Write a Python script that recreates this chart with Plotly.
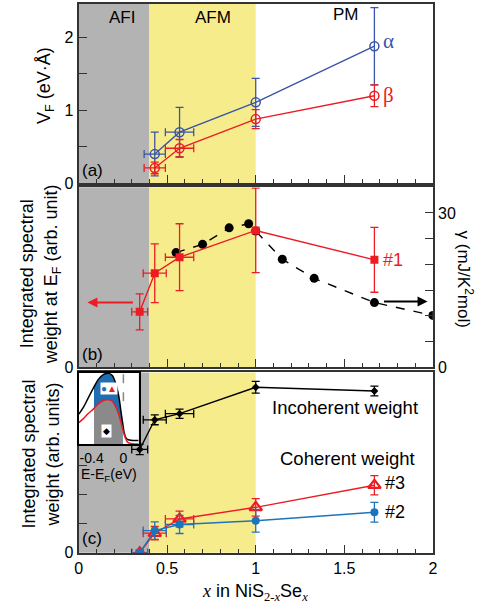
import plotly.graph_objects as go

W, H = 483, 607
def px(x):
    return x / W
def py(y):
    return 1 - y / H

# ---------------- data ----------------
# phase boundaries
afi_afm = 0.4
afm_pm = 1.0

# Panel (a): Fermi velocity
xa = [0.43, 0.57, 1.0, 1.67]
xa_err = [0.06, 0.08]
alpha_v = [0.40, 0.70, 1.11, 1.88]
alpha_err = [0.30, 0.34, 0.33, 0.53]
beta_v = [0.21, 0.48, 0.88, 1.20]
beta_err = [0.08, 0.12, 0.13, 0.15]

# Panel (b): integrated spectral weight at EF (#1) and gamma
xb = [0.345, 0.43, 0.57, 1.0, 1.67]
xb_err = [0.045, 0.065, 0.08]
sw_ef = [10.8, 18.3, 21.4, 26.6, 20.9]
sw_ef_err = [3.5, 5.7, 6.5, 8.2, 6.3]
x_gamma = [0.55, 0.70, 0.85, 0.96, 1.0, 1.15, 1.33, 1.67, 2.0]
gamma = [22.3, 23.9, 27.1, 27.9, 26.5, 21.0, 17.3, 12.6, 10.1]

# Panel (c): incoherent / coherent weights
xc = [0.345, 0.43, 0.57, 1.0, 1.67]
xc_err = [0.045, 0.065, 0.08]
incoh = [3.55, 4.57, 4.78, 5.69, 5.56]
incoh_err = [0.18, 0.17, 0.16, 0.20, 0.17]
coh3 = [0.0, 0.67, 1.16, 1.56, 2.32]
coh3_err = [0.10, 0.23, 0.27, 0.30, 0.33]
coh2 = [0.0, 0.76, 0.97, 1.10, 1.39]
coh2_err = [0.10, 0.30, 0.31, 0.39, 0.34]

# Inset spectrum
inset_E = [-0.56, -0.50, -0.45, -0.37, -0.32, -0.27, -0.22, -0.18, -0.14,
           -0.10, -0.06, -0.03, -0.01, 0.01, 0.03, 0.06, 0.19]
inset_black = [0.42, 0.52, 0.63, 0.80, 0.90, 0.96, 0.99, 0.99, 0.96,
               0.86, 0.68, 0.45, 0.30, 0.16, 0.09, 0.06, 0.05]
inset_red = [0.30, 0.36, 0.42, 0.50, 0.56, 0.60, 0.62, 0.62, 0.60,
             0.53, 0.42, 0.30, 0.21, 0.13, 0.07, 0.02, 0.0]
fill_lo, fill_hi = 3, 13  # slice of inset points that are filled

# ---------------- style ----------------
FONT = "Liberation Sans, Arial, sans-serif"
SERIF = "Liberation Serif, Times New Roman, serif"
BLUE_A = "#3a55a8"
RED = "#ec1c24"
BLUE_C = "#1b75bc"
GRAY = "#b3b3b3"
YELLOW = "#f7ec8c"
AX = "#333333"

fig = go.Figure()

def xerr_trace(x, y, err, color, xaxis, yaxis):
    return go.Scatter(x=x[:len(err)], y=y[:len(err)], mode="markers",
                      marker=dict(color="rgba(0,0,0,0)", size=1),
                      error_x=dict(type="data", array=err, color=color, thickness=1.3, width=4),
                      xaxis=xaxis, yaxis=yaxis, showlegend=False, hoverinfo="skip")

# Panel (a)
fig.add_trace(xerr_trace(xa, alpha_v, xa_err, BLUE_A, "x3", "y3"))
fig.add_trace(xerr_trace(xa, beta_v, xa_err, RED, "x3", "y3"))
fig.add_trace(go.Scatter(x=xa, y=alpha_v, mode="lines+markers", xaxis="x3", yaxis="y3",
                         line=dict(color=BLUE_A, width=1.4),
                         marker=dict(symbol="circle-open", size=9, color=BLUE_A, line=dict(width=1.5)),
                         error_y=dict(type="data", array=alpha_err, color=BLUE_A, thickness=1.3, width=4),
                         showlegend=False))
fig.add_trace(go.Scatter(x=xa, y=beta_v, mode="lines+markers", xaxis="x3", yaxis="y3",
                         line=dict(color=RED, width=1.4),
                         marker=dict(symbol="circle-open", size=9, color=RED, line=dict(width=1.5)),
                         error_y=dict(type="data", array=beta_err, color=RED, thickness=1.3, width=4),
                         showlegend=False))

# Panel (b): gamma (dashed black) then #1 (red, on overlay so it sits on top)
fig.add_trace(go.Scatter(x=x_gamma, y=gamma, mode="lines+markers", xaxis="x2", yaxis="y2",
                         line=dict(color="black", width=1.4, dash="dash"),
                         marker=dict(symbol="circle", size=9, color="black"),
                         showlegend=False))
fig.add_trace(xerr_trace(xb, sw_ef, xb_err, RED, "x2", "y5"))
fig.add_trace(go.Scatter(x=xb, y=sw_ef, mode="lines+markers", xaxis="x2", yaxis="y5",
                         line=dict(color=RED, width=1.4),
                         marker=dict(symbol="square", size=8, color=RED),
                         error_y=dict(type="data", array=sw_ef_err, color=RED, thickness=1.3, width=4),
                         showlegend=False))

# Panel (c)
fig.add_trace(xerr_trace(xc, incoh, xc_err, "black", "x", "y"))
fig.add_trace(xerr_trace(xc, coh3, xc_err, RED, "x", "y"))
fig.add_trace(xerr_trace(xc, coh2, xc_err, BLUE_C, "x", "y"))
fig.add_trace(go.Scatter(x=xc, y=incoh, mode="lines+markers", xaxis="x", yaxis="y",
                         line=dict(color="black", width=1.4),
                         marker=dict(symbol="diamond", size=6, color="black"),
                         error_y=dict(type="data", array=incoh_err, color="black", thickness=1.3, width=4),
                         showlegend=False))
fig.add_trace(go.Scatter(x=xc, y=coh3, mode="lines+markers", xaxis="x", yaxis="y",
                         line=dict(color=RED, width=1.4),
                         marker=dict(symbol="triangle-up-open", size=11, color=RED, line=dict(width=2.2)),
                         error_y=dict(type="data", array=coh3_err, color=RED, thickness=1.3, width=4),
                         showlegend=False))
fig.add_trace(go.Scatter(x=xc, y=coh2, mode="lines+markers", xaxis="x", yaxis="y",
                         line=dict(color=BLUE_C, width=1.4),
                         marker=dict(symbol="circle", size=8, color=BLUE_C),
                         error_y=dict(type="data", array=coh2_err, color=BLUE_C, thickness=1.3, width=4),
                         showlegend=False))

# Inset
fig.add_trace(go.Scatter(x=inset_E[fill_lo:fill_hi], y=inset_black[fill_lo:fill_hi], mode="lines",
                         line=dict(width=0), fill="tozeroy", fillcolor="#1f6db3",
                         xaxis="x4", yaxis="y4", showlegend=False, hoverinfo="skip"))
fig.add_trace(go.Scatter(x=inset_E[fill_lo:fill_hi], y=inset_red[fill_lo:fill_hi], mode="lines",
                         line=dict(width=0), fill="tozeroy", fillcolor="#8a8a8a",
                         xaxis="x4", yaxis="y4", showlegend=False, hoverinfo="skip"))
fig.add_trace(go.Scatter(x=inset_E, y=inset_black, mode="lines", line=dict(color="black", width=1.5, shape="spline"),
                         xaxis="x4", yaxis="y4", showlegend=False))
fig.add_trace(go.Scatter(x=inset_E, y=inset_red, mode="lines", line=dict(color=RED, width=1.5, shape="spline"),
                         xaxis="x4", yaxis="y4", showlegend=False))

# ---------------- axes ----------------
frame = dict(showline=True, mirror=True, linecolor=AX, linewidth=2, showgrid=False, zeroline=False)
xdom = [px(76), px(437)]
minor = dict(dtick=0.1, ticks="inside", ticklen=4, tickwidth=1.3, tickcolor=AX)
xbase = dict(range=[0, 2], dtick=0.5, tick0=0, ticks="inside", ticklen=8, tickwidth=1.3,
             tickcolor=AX, minor=minor, domain=xdom, **frame)
tickfont = dict(family=FONT, size=16, color="black")

layout = dict(
    width=W, height=H, margin=dict(l=0, r=0, t=0, b=0),
    paper_bgcolor="white", plot_bgcolor="white",
    font=dict(family=FONT, size=16, color="black"),
    showlegend=False,
    xaxis=dict(**xbase, anchor="y", tickfont=tickfont),
    yaxis=dict(domain=[py(561), py(378)], range=[0, 6.2], anchor="x",
               tickvals=[0, 1, 2, 3, 4, 5, 6], ticktext=["0", "", "", "", "", "", ""],
               ticks="inside", ticklen=8, tickwidth=1.3, tickcolor=AX, tickfont=tickfont, **frame),
    xaxis2=dict(**xbase, anchor="y2", matches="x", showticklabels=False),
    yaxis2=dict(domain=[py(373), py(190)], range=[0, 35], anchor="x2",
                tickvals=[0], ticktext=["0"], ticks="", tickfont=tickfont, **frame),
    yaxis5=dict(overlaying="y2", side="right", range=[0, 35], anchor="x2",
                tickvals=[0, 5, 10, 15, 20, 25, 30], ticktext=["0", "", "", "", "", "", "30"],
                ticks="inside", ticklen=8, tickwidth=1.3, tickcolor=AX, tickfont=tickfont,
                showline=True, linecolor=AX, linewidth=2, showgrid=False, zeroline=False),
    xaxis3=dict(**xbase, anchor="y3", matches="x", showticklabels=False),
    yaxis3=dict(domain=[py(186), py(4)], range=[0, 2.46], anchor="x3",
                tickvals=[0, 0.5, 1, 1.5, 2], ticktext=["0", "", "1", "", "2"],
                ticks="inside", ticklen=8, tickwidth=1.3, tickcolor=AX, tickfont=tickfont, **frame),
    xaxis4=dict(domain=[px(76), px(137.3)], range=[-0.564, 0.193], anchor="y4",
                tickvals=[-0.4, 0], ticktext=["-0.4", "0"], ticks="",
                tickfont=dict(family=FONT, size=14, color="black"),
                showline=True, mirror=True, linecolor="black", linewidth=1.5, showgrid=False, zeroline=False),
    yaxis4=dict(domain=[py(450.7), py(378.3)], range=[0, 1.0], anchor="x4",
                showticklabels=False, ticks="",
                showline=True, mirror=True, linecolor="black", linewidth=1.5, showgrid=False, zeroline=False),
)
fig.update_layout(**layout)

# ---------------- phase bands ----------------
shapes = []
for xr, yr in [("x", "y"), ("x2", "y2"), ("x3", "y3")]:
    shapes.append(dict(type="rect", xref=xr, yref=yr + " domain", x0=0, x1=afi_afm, y0=0, y1=1,
                       fillcolor=GRAY, line=dict(width=0), layer="below"))
    shapes.append(dict(type="rect", xref=xr, yref=yr + " domain", x0=afi_afm, x1=afm_pm, y0=0, y1=1,
                       fillcolor=YELLOW, line=dict(width=0), layer="below"))
shapes.append(dict(type="line", xref="x4", yref="y4 domain", x0=0, x1=0, y0=0.6, y1=1,
                   line=dict(color="#888888", width=1.5, dash="dash"), layer="above"))
fig.update_layout(shapes=shapes)

# ---------------- annotations ----------------
ann = []
def txt(text, x, y, size=17, color="black", family=FONT, xanchor="center", angle=0, **kw):
    d = dict(text=text, x=x, y=y, xref=kw.pop("xref", "paper"), yref=kw.pop("yref", "paper"),
             showarrow=False, xanchor=xanchor, yanchor="middle", textangle=angle,
             font=dict(size=size, color=color, family=family))
    d.update(kw)
    ann.append(d)

# phase names
txt("AFI", px(120), py(18))
txt("AFM", px(213), py(18))
txt("PM", px(348), py(15))
# panel letters
txt("(a)", px(90), py(173))
txt("(b)", px(90), py(360))
txt("(c)", px(90), py(547))
# series labels
txt("α", 1.71, 1.95, size=21, color=BLUE_A, family=SERIF, xanchor="left", xref="x3", yref="y3")
txt("β", 1.71, 1.21, size=21, color=RED, family=SERIF, xanchor="left", xref="x3", yref="y3")
txt("#1", 1.71, 20.9, size=18, color=RED, xanchor="left", xref="x2", yref="y2")
txt("Incoherent weight", 1.505, 5.0, size=18.5, xref="x", yref="y")
txt("Coherent weight", 1.52, 3.23, size=18.5, xref="x", yref="y")
txt("#3", 1.72, 2.39, size=18, xanchor="left", xref="x", yref="y")
txt("#2", 1.72, 1.39, size=18, xanchor="left", xref="x", yref="y")
# axis titles
txt("V<sub>F</sub> (eV·Å)", px(43), py(87), size=18, angle=-90)
txt("Integrated spectral<br>weight at E<sub>F</sub> (arb. unit)", px(37), py(278), size=18, angle=-90)
txt("Integrated spectral<br>weight (arb. units)", px(37), py(461), size=18, angle=-90)
txt("γ (mJ/K<sup>2</sup>mol)", px(470), py(283), angle=90)
it = '<span style="font-family:Liberation Serif"><i>x</i></span>'
txt(it + " in NiS<sub><span style=\"font-family:Liberation Serif\">2-<i>x</i></span></sub>Se<sub>" + it + "</sub>",
    px(256), py(601), size=18)
# inset texts
txt("E-E<sub>F</sub>(eV)", px(107), py(482), size=14)
txt('<span style="color:#1b75bc">●</span><span style="color:#ec1c24">▲</span>', -0.175, 0.78,
    size=10, bgcolor="white", borderpad=0, xref="x4", yref="y4")
txt("◆", -0.215, 0.18, size=9, bgcolor="white", borderpad=1, xref="x4", yref="y4")

# arrows
ann.append(dict(x=0.05, y=12.6, xref="x2", yref="y2", ax=47, ay=0, axref="pixel", ayref="pixel",
                showarrow=True, arrowhead=2, arrowsize=1, arrowwidth=2, arrowcolor=RED, text=""))
ann.append(dict(x=1.97, y=12.8, xref="x2", yref="y2", ax=-45, ay=0, axref="pixel", ayref="pixel",
                showarrow=True, arrowhead=2, arrowsize=1, arrowwidth=2, arrowcolor="black", text=""))
fig.update_layout(annotations=ann)

fig.write_html("out.html", config={"displayModeBar": False},
               post_script="document.body.style.margin='0';document.body.style.padding='0';")
